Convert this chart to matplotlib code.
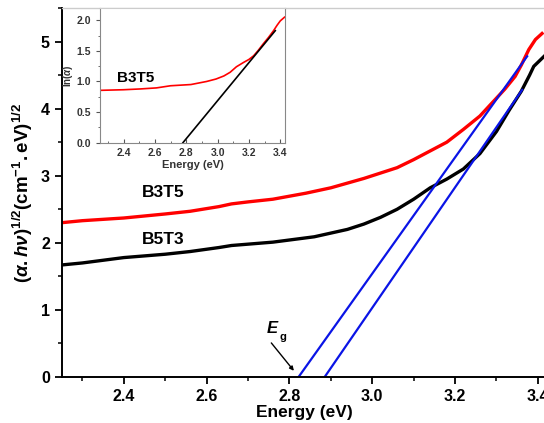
import numpy as np
import matplotlib
matplotlib.use('Agg')
from matplotlib import pyplot as plt
from matplotlib.ticker import MultipleLocator, FormatStrFormatter

plt.rcParams['font.family'] = ['Liberation Sans', 'DejaVu Sans']
plt.rcParams['mathtext.fontset'] = 'custom'
plt.rcParams['mathtext.rm'] = 'Liberation Sans:bold'
plt.rcParams['mathtext.it'] = 'Liberation Sans:italic:bold'
plt.rcParams['mathtext.bf'] = 'Liberation Sans:bold'

# main plot: (alpha h nu)^1/2 vs energy
energie_b3t5 = [2.25, 2.30, 2.40, 2.50, 2.56, 2.63, 2.66, 2.70, 2.76, 2.84, 2.90,
                2.98, 3.02, 3.06, 3.10, 3.14, 3.18, 3.22, 3.26, 3.29, 3.32,
                3.345, 3.36, 3.378, 3.394, 3.41]
tauc_b3t5 = [2.30, 2.33, 2.37, 2.43, 2.47, 2.54, 2.58, 2.61, 2.65, 2.74, 2.82,
             2.96, 3.04, 3.12, 3.24, 3.37, 3.50, 3.69, 3.89, 4.09, 4.29,
             4.48, 4.65, 4.88, 5.03, 5.12]

energie_b5t3 = [2.25, 2.30, 2.40, 2.50, 2.56, 2.63, 2.66, 2.76, 2.86, 2.94, 2.98,
                3.02, 3.06, 3.10, 3.14, 3.18, 3.22, 3.26, 3.30, 3.33, 3.36,
                3.38, 3.39, 3.42]
tauc_b5t3 = [1.67, 1.70, 1.78, 1.83, 1.87, 1.93, 1.96, 2.01, 2.09, 2.20, 2.28,
             2.38, 2.50, 2.65, 2.82, 2.95, 3.10, 3.33, 3.66, 3.97, 4.26,
             4.50, 4.63, 4.81]

# linear fits (blue)
fit1_x = [2.822, 3.374]
fit1_y = [0.0, 4.78]
fit2_x = [2.885, 3.362]
fit2_y = [0.0, 4.28]

# inset: ln(alpha) for B3T5
inset_x = [2.25, 2.40, 2.507, 2.61, 2.70, 2.83, 2.93, 2.99, 3.04, 3.08, 3.12,
           3.165, 3.20, 3.23, 3.26, 3.293, 3.325, 3.357, 3.38, 3.40, 3.427]
inset_y = [0.855, 0.865, 0.878, 0.895, 0.93, 0.95, 1.00, 1.04, 1.09, 1.15, 1.24,
           1.31, 1.36, 1.42, 1.51, 1.62, 1.72, 1.83, 1.92, 1.99, 2.05]
inset_fit_x = [2.779, 3.368]
inset_fit_y = [0.0, 1.83]

fig = plt.figure(figsize=(5.44, 4.23), dpi=100)
ax = fig.add_axes([61.7 / 544, 46 / 423, 1.0 - 61.7 / 544 + 0.004, 369 / 423])

ax.plot(energie_b3t5, tauc_b3t5, color='red', lw=2.4, solid_joinstyle='round')
ax.plot(energie_b5t3, tauc_b5t3, color='black', lw=2.4, solid_joinstyle='round')
ax.plot(fit1_x, fit1_y, color='#0a14e6', lw=1.6)
ax.plot(fit2_x, fit2_y, color='#0a14e6', lw=1.6)

ax.set_xlim(2.25, 3.42)
ax.set_ylim(0, 5.5)
ax.xaxis.set_major_locator(MultipleLocator(0.2))
ax.xaxis.set_minor_locator(MultipleLocator(0.1))
ax.yaxis.set_major_locator(MultipleLocator(1))
ax.yaxis.set_minor_locator(MultipleLocator(0.5))
ax.tick_params(which='major', direction='out', length=5, width=1.3, labelsize=11.5)
ax.tick_params(which='minor', direction='out', length=3, width=1.1)
for lab in ax.get_xticklabels() + ax.get_yticklabels():
    lab.set_fontweight('bold')
ax.spines['left'].set_linewidth(1.4)
ax.spines['bottom'].set_linewidth(1.4)
ax.spines['right'].set_visible(False)
ax.spines['top'].set_color('#cccccc')
ax.spines['top'].set_linewidth(1.0)

ax.set_xlabel('Energy (eV)', fontsize=12.5, fontweight='bold', labelpad=1)
ax.set_ylabel(r'$(\alpha.h\nu)^{1/2}\mathrm{(cm^{-1}.eV)^{1/2}}$', fontsize=13.5, labelpad=4)

ax.text(2.495, 2.75, 'B3T5', fontsize=12.5, fontweight='bold', ha='center', va='center')
ax.text(2.495, 2.05, 'B5T3', fontsize=12.5, fontweight='bold', ha='center', va='center')

ax.annotate('', xy=(2.815, 0.06), xytext=(2.752, 0.54),
            arrowprops=dict(arrowstyle='-|>', color='black', lw=1.0, mutation_scale=6))
ax.text(2.76, 0.73, r'$E$', fontsize=12, ha='center', va='center')
ax.text(2.785, 0.59, 'g', fontsize=8, fontweight='bold', ha='center', va='center')

# inset
axi = fig.add_axes([100 / 544, 280.3 / 423, 185 / 544, 134.7 / 423])
axi.plot(inset_x, inset_y, color='red', lw=1.2)
axi.plot(inset_fit_x, inset_fit_y, color='black', lw=1.2)
axi.set_xlim(2.25, 3.43)
axi.set_ylim(0, 2.2)
axi.xaxis.set_major_locator(MultipleLocator(0.2))
axi.xaxis.set_minor_locator(MultipleLocator(0.1))
axi.yaxis.set_major_locator(MultipleLocator(0.5))
axi.yaxis.set_minor_locator(MultipleLocator(0.25))
axi.tick_params(axis='x', which='both', direction='in', labelsize=7.5, colors='#555555',
                labelcolor='#333333', pad=4)
axi.tick_params(axis='y', which='both', direction='out', labelsize=7.5, colors='#555555',
                labelcolor='#333333')
axi.tick_params(which='major', length=3)
axi.tick_params(which='minor', length=1.5)
for lab in axi.get_xticklabels() + axi.get_yticklabels():
    lab.set_fontweight('bold')
axi.yaxis.set_major_formatter(FormatStrFormatter('%.1f'))
for s in axi.spines.values():
    s.set_color('#888888')
    s.set_linewidth(0.8)
axi.spines['top'].set_color('#cccccc')
axi.set_xlabel('Energy (eV)', fontsize=8, fontweight='bold', color='#333333', labelpad=1)
axi.set_ylabel(r'ln($\alpha$)', fontsize=7, fontweight='bold', color='#333333', labelpad=1)
axi.text(2.48, 1.06, 'B3T5', fontsize=11, fontweight='bold', ha='center', va='center')

fig.savefig('out.png', dpi=100)
